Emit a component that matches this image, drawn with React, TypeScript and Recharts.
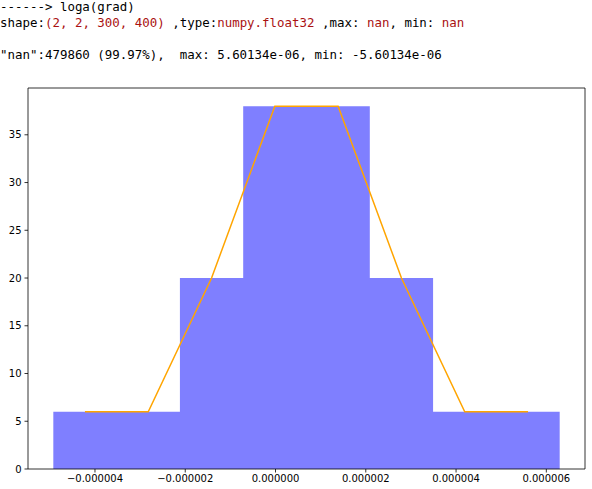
import React from 'react';
import { ComposedChart, Area, Line, XAxis, YAxis, ReferenceLine } from 'recharts';

// histogram bin edges (x) and counts
const binEdges = [-4.923e-6, -3.521e-6, -2.118e-6, -0.716e-6, 0.686e-6, 2.089e-6, 3.491e-6, 4.894e-6, 6.296e-6];
const binCounts = [6, 6, 20, 38, 38, 20, 6, 6];
const xTicks = [-4e-6, -2e-6, 0, 2e-6, 4e-6, 6e-6];
const yTicks = [0, 5, 10, 15, 20, 25, 30, 35];

const histData = binEdges.map((x, i) => ({ x, count: binCounts[Math.min(i, binCounts.length - 1)] }));
const centerData = binCounts.map((c, i) => ({ x: (binEdges[i] + binEdges[i + 1]) / 2, count: c }));

const xMin = binEdges[0] - (binEdges[binEdges.length - 1] - binEdges[0]) * 0.05;
const xMax = binEdges[binEdges.length - 1] + (binEdges[binEdges.length - 1] - binEdges[0]) * 0.05;
const yMax = 38 * 1.05;

const red = '#aa1111';
const fmtX = (v: number) => v.toFixed(6).replace('-', '\u2212');
const tickStyle = { fontFamily: 'DejaVu Sans', fontSize: 10, fill: '#000' };

export default function App() {
  return (
    <div style={{ position: 'absolute', left: 0, top: 0, width: 592, height: 489, background: '#fff' }}>
      <div
        style={{
          position: 'absolute',
          left: 0,
          top: -1,
          fontFamily: 'DejaVu Sans Mono',
          fontSize: 12.45,
          lineHeight: '16px',
          whiteSpace: 'pre',
          color: '#000',
        }}
      >
        <div>------&gt; loga(grad)</div>
        <div>
          shape:<span style={{ color: red }}>(2, 2, 300, 400)</span> ,type:<span style={{ color: red }}>numpy.float32</span> ,max: <span style={{ color: red }}>nan</span>, min: <span style={{ color: red }}>nan</span>
        </div>
        <div>&nbsp;</div>
        <div>"nan":479860 (99.97%),  max: 5.60134e-06, min: -5.60134e-06</div>
      </div>
      <div style={{ position: 'absolute', left: 0, top: 0 }}>
        <ComposedChart width={592} height={489} margin={{ top: 88, right: 7, bottom: 0, left: 0 }}>
          <XAxis
            type="number"
            dataKey="x"
            domain={[xMin, xMax]}
            ticks={xTicks}
            tickFormatter={fmtX}
            allowDataOverflow
            height={20}
            tickSize={3.5}
            tickMargin={2}
            stroke="#000"
            tick={tickStyle}
            axisLine={{ stroke: '#000', strokeWidth: 0.8 }}
            tickLine={{ stroke: '#000', strokeWidth: 0.8 }}
          />
          <YAxis
            type="number"
            domain={[0, yMax]}
            ticks={yTicks}
            allowDataOverflow
            width={28}
            tickSize={3.5}
            tickMargin={3}
            tick={tickStyle}
            axisLine={{ stroke: '#000', strokeWidth: 0.8 }}
            tickLine={{ stroke: '#000', strokeWidth: 0.8 }}
          />
          <Area
            data={histData}
            dataKey="count"
            type="stepAfter"
            fill="#7f7fff"
            fillOpacity={1}
            stroke="none"
            isAnimationActive={false}
            dot={false}
            activeDot={false}
          />
          <Line
            data={centerData}
            dataKey="count"
            type="linear"
            stroke="#ffa500"
            strokeWidth={1.5}
            dot={false}
            activeDot={false}
            isAnimationActive={false}
          />
          <ReferenceLine y={yMax} stroke="#000" strokeWidth={0.8} ifOverflow="extendDomain" />
          <ReferenceLine x={xMax} stroke="#000" strokeWidth={0.8} ifOverflow="extendDomain" />
        </ComposedChart>
      </div>
    </div>
  );
}
